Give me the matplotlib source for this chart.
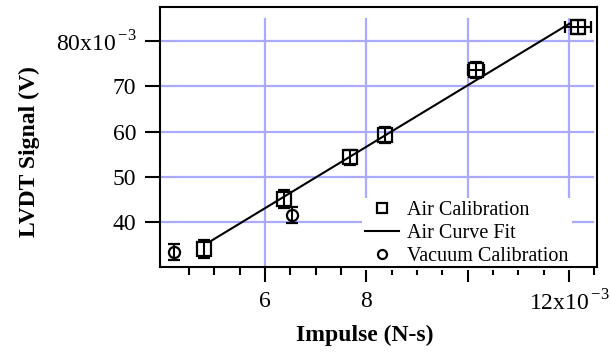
import matplotlib
matplotlib.use('Agg')
import matplotlib.pyplot as plt
from matplotlib.lines import Line2D
import numpy as np

plt.rcParams['font.family'] = ['Liberation Serif', 'DejaVu Serif']
plt.rcParams['mathtext.fontset'] = 'custom'
plt.rcParams['mathtext.rm'] = 'Liberation Serif'

# air calibration shots (impulse in N-s, LVDT signal in V)
air_impulse = [4.80e-3, 6.375e-3, 7.68e-3, 8.37e-3, 10.17e-3, 12.17e-3]
air_signal = [34.0e-3, 45.0e-3, 54.3e-3, 59.2e-3, 73.6e-3, 83.1e-3]
# impulse uncertainty only shows outside the marker on the two largest shots
air_impulse_err = [np.nan, np.nan, np.nan, np.nan, 0.16e-3, 0.26e-3]
air_signal_err = [2.0e-3, 2.0e-3, 1.6e-3, 1.7e-3, 1.7e-3, 1.6e-3]

# vacuum calibration shots
vac_impulse = [4.21e-3, 6.54e-3]
vac_signal = [33.4e-3, 41.5e-3]
vac_signal_err = [1.8e-3, 1.8e-3]

# linear fit to the air data, drawn over the fitted range
fit_impulse = [4.93e-3, 12.0e-3]
fit_signal = [35.8e-3, 83.8e-3]

x_major = [6e-3, 8e-3, 10e-3, 12e-3]
x_labels = ['6', '8', '', r'12x10$^{\,\mathregular{-3}}$']
x_minor = [v * 1e-3 for v in [4.5, 5, 5.5, 6.5, 7, 7.5, 8.5, 9, 9.5, 10.5, 11, 11.5, 12.5]]
y_major = [40e-3, 50e-3, 60e-3, 70e-3, 80e-3]
y_labels = ['40', '50', '60', '70', r'80x10$^{\,\mathregular{-3}}$']

grid_color = '#aaaaff'

fig = plt.figure(figsize=(6.11, 3.56), dpi=100)
ax = fig.add_axes([0.262, 0.25, 0.715, 0.730])
ax.set_xlim(3.928e-3, 12.55e-3)
ax.set_ylim(30.06e-3, 87.5e-3)

for xv in x_major:
    ax.axvline(xv, ymax=0.954, color=grid_color, lw=1.6, zorder=0)
for yv in y_major:
    ax.axhline(yv, xmax=0.99, color=grid_color, lw=1.6, zorder=0)

ax.plot(fit_impulse, fit_signal, color='black', lw=1.5, zorder=3)

ax.errorbar(air_impulse, air_signal, yerr=air_signal_err, xerr=air_impulse_err,
            fmt='s', ms=9.5, mfc='none', mec='black', mew=1.6,
            ecolor='black', elinewidth=1.5, capsize=4, capthick=1.5, zorder=4)
ax.errorbar(vac_impulse, vac_signal, yerr=vac_signal_err,
            fmt='o', ms=8, mfc='none', mec='black', mew=1.6,
            ecolor='black', elinewidth=1.5, capsize=4, capthick=1.5, zorder=4)

ax.set_xticks(x_major)
ax.set_xticklabels(x_labels)
ax.set_xticks(x_minor, minor=True)
ax.set_yticks(y_major)
ax.set_yticklabels(y_labels)
ax.tick_params(axis='both', which='major', direction='out', length=11, width=1.5,
               labelsize=17, pad=6)
ax.tick_params(axis='both', which='minor', direction='out', length=5.5, width=1.5)
for side in ax.spines.values():
    side.set_linewidth(1.5)
    side.set_zorder(6)

ax.set_xlabel('Impulse (N-s)', fontsize=17, fontweight='bold', va='center')
ax.xaxis.set_label_coords(0.469, -0.265)
ax.set_ylabel('LVDT Signal (V)', fontsize=17, fontweight='bold', va='center')
ax.yaxis.set_label_coords(-0.30, 0.446)

handles = [
    Line2D([], [], marker='s', ls='none', ms=7.5, mfc='none', mec='black', mew=1.6),
    Line2D([], [], color='black', lw=1.5),
    Line2D([], [], marker='o', ls='none', ms=6.5, mfc='none', mec='black', mew=1.6),
]
leg = ax.legend(handles, ['Air Calibration', 'Air Curve Fit', 'Vacuum Calibration'],
                loc='upper left', bbox_to_anchor=(0.462, 0.265), fontsize=14.5,
                frameon=True, fancybox=False, framealpha=1, edgecolor='none',
                borderpad=0.15, labelspacing=0.2, handlelength=1.7,
                handletextpad=0.4, borderaxespad=0)
leg.set_zorder(5)

fig.savefig('out.png', dpi=100)
